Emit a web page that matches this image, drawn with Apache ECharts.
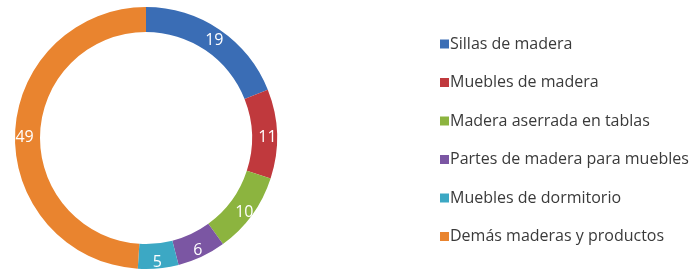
<!DOCTYPE html>
<html><head><meta charset="utf-8">
<script src="https://cdn.jsdelivr.net/npm/echarts@6/dist/echarts.min.js"></script>
<style>html,body{margin:0;padding:0;background:#fff}#c{width:699px;height:273px}</style>
</head><body><div id="c"></div>
<script>
const categories = ['Sillas de madera','Muebles de madera','Madera aserrada en tablas','Partes de madera para muebles','Muebles de dormitorio','Demás maderas y productos'];
const values = [19, 11, 10, 6, 5, 49];
const colors = ['#3a6db5','#c0393d','#8cb43f','#7b56a3','#3ca8c4','#e9842f'];
const chart = echarts.init(document.getElementById('c'));
chart.setOption({
  animation:false,
  color: colors,
  legend:{
    orient:'vertical', left:435, top:29,
    itemWidth:9, itemHeight:9, itemGap:18.5, icon:'rect',
    textStyle:{fontFamily:'Open Sans', fontSize:16, color:'#3a3a3a', padding:[0,0,0,-4], lineHeight:20},
    data: categories
  },
  series:[{
    type:'pie', center:[146,138], radius:[106,131], startAngle:90, clockwise:true,
    avoidLabelOverlap:false,
    label:{show:true, position:'inside', formatter:'{c}', color:'#fff', fontFamily:'Open Sans', fontSize:16, offset:[0,3]},
    labelLine:{show:false},
    itemStyle:{borderWidth:0},
    emphasis:{disabled:true},
    data: categories.map((n,i)=>({name:n, value:values[i]}))
  }]
});
</script></body></html>
